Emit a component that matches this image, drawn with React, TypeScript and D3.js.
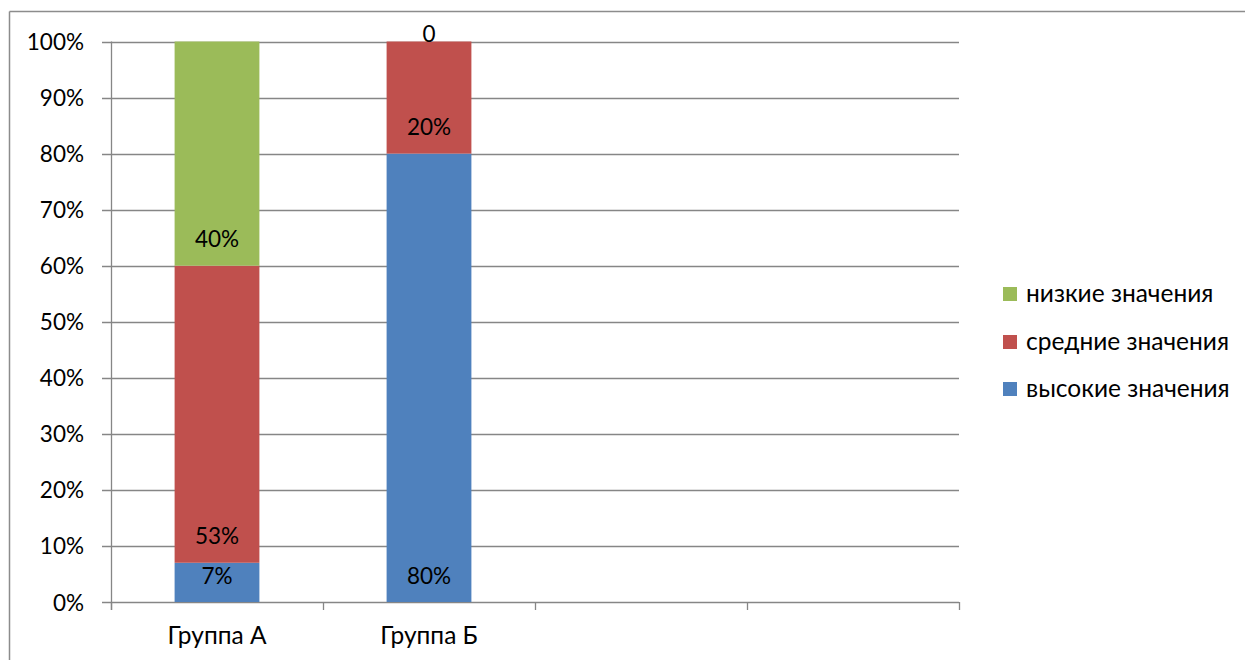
import React from "react";
import * as d3 from "d3";

// Categories on the x axis (the last two slots are empty)
const categories = ["Группа А", "Группа Б", "", ""];
// Series, stacked bottom to top
const seriesNames = ["высокие значения", "средние значения", "низкие значения"];
const highValues = [7, 80];
const midValues = [53, 20];
const lowValues = [40, 0];
const seriesColors = ["#4F81BD", "#C0504D", "#9BBB59"];
const yTicks = [0, 10, 20, 30, 40, 50, 60, 70, 80, 90, 100];

const W = 1245;
const H = 660;
const FONT = "Lato, 'Open Sans', sans-serif";
const FS = 22.5;
const FS_TEXT = 24.5;

export default function App() {
  const plotLeft = 111;
  const plotRight = 959;
  const plotTop = 41.5;
  const plotBottom = 602;

  const x = d3
    .scaleBand<string>()
    .domain(categories.map((_, i) => String(i)))
    .range([plotLeft, plotRight])
    .paddingInner(0.6)
    .paddingOuter(0.3);
  const y = d3.scaleLinear().domain([0, 100]).range([plotBottom, plotTop]);
  const step = x.step();

  const seriesValues = [highValues, midValues, lowValues];
  const table = [0, 1].map((i) => {
    const row: any = { key: String(i) };
    seriesNames.forEach((s, k) => (row[s] = seriesValues[k][i]));
    return row;
  });
  const stacked = d3.stack<any>().keys(seriesNames)(table);

  const boundaries = d3.range(categories.length + 1).map((i) => plotLeft + i * step);
  const grid = "#868686";

  const legendY = [389, 342, 294];

  return (
    <svg
      width={W}
      height={H}
      style={{ position: "absolute", left: 0, top: 0, background: "#fff" }}
      fontFamily={FONT}
    >
      {/* chart frame */}
      <line x1={9.5} y1={11.5} x2={W} y2={11.5} stroke="#8c8c8c" strokeWidth={1.5} />
      <line x1={9.5} y1={11.5} x2={9.5} y2={H} stroke="#8c8c8c" strokeWidth={1.5} />

      {/* horizontal gridlines and y ticks */}
      {yTicks.map((t) => (
        <g key={t}>
          <line x1={plotLeft - 9} x2={plotRight} y1={Math.round(y(t)) + 0.5} y2={Math.round(y(t)) + 0.5} stroke={grid} strokeWidth={1.3} />
          <text
            x={84}
            y={y(t)}
            textAnchor="end"
            dominantBaseline="central"
            fontSize={FS}
            fill="#000"
          >
            {t}%
          </text>
        </g>
      ))}

      {/* axes */}
      <line x1={plotLeft + 0.5} x2={plotLeft + 0.5} y1={plotTop} y2={plotBottom + 8} stroke={grid} strokeWidth={1.3} />
      {boundaries.map((bx, i) => (
        <line key={i} x1={bx + 0.5} x2={bx + 0.5} y1={plotBottom} y2={plotBottom + 8} stroke={grid} strokeWidth={1.3} />
      ))}

      {/* stacked bars */}
      {stacked.map((layer, k) => (
        <g key={layer.key} fill={seriesColors[k]}>
          {layer.map((d, i) => (
            <rect
              key={i}
              x={x(String(i))!}
              width={x.bandwidth()}
              y={y(d[1])}
              height={y(d[0]) - y(d[1])}
            />
          ))}
        </g>
      ))}

      {/* data labels, placed near the base of each segment */}
      {stacked.map((layer) => (
        <g key={"l" + layer.key}>
          {layer.map((d, i) => {
            const v = d[1] - d[0];
            const cy = y(d[0]) - (v === 0 ? 8 : 27);
            return (
              <text
                key={i}
                x={x(String(i))! + x.bandwidth() / 2}
                y={cy}
                textAnchor="middle"
                dominantBaseline="central"
                fontSize={FS}
                fill="#000"
              >
                {v === 0 ? "0" : `${v}%`}
              </text>
            );
          })}
        </g>
      ))}

      {/* category labels */}
      {categories.map((c, i) => (
        <text
          key={i}
          x={x(String(i))! + x.bandwidth() / 2}
          y={644}
          textAnchor="middle"
          fontSize={FS_TEXT}
          fill="#000"
        >
          {c}
        </text>
      ))}

      {/* legend */}
      {seriesNames.map((s, k) => (
        <g key={s}>
          <rect x={1003} y={legendY[k] - 7} width={14} height={14} fill={seriesColors[k]} />
          <text x={1026} y={legendY[k] - 2} dominantBaseline="central" fontSize={FS_TEXT} fill="#000">
            {s}
          </text>
        </g>
      ))}
    </svg>
  );
}
